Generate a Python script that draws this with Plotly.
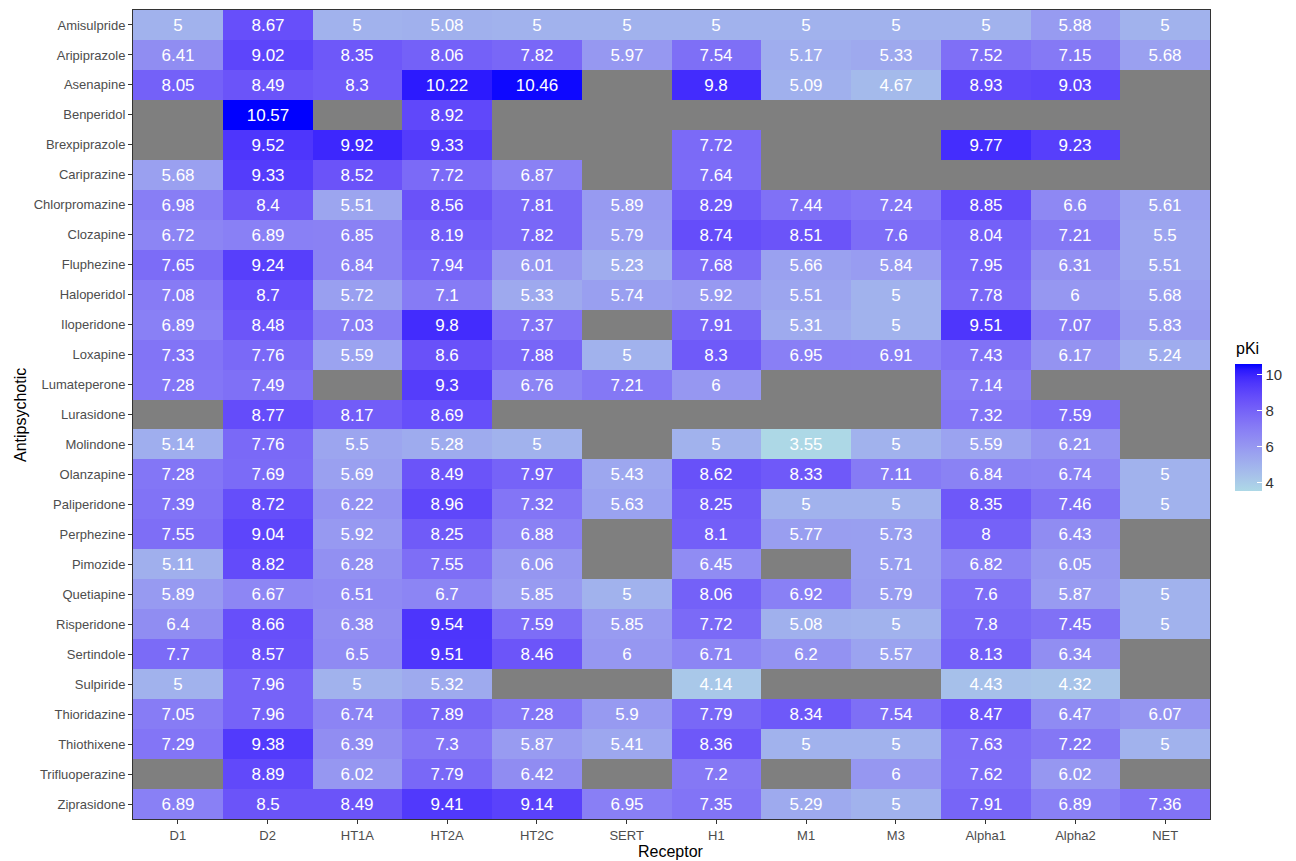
import plotly.graph_objects as go
import numpy as np

receptors = ["D1", "D2", "HT1A", "HT2A", "HT2C", "SERT", "H1", "M1", "M3", "Alpha1", "Alpha2", "NET"]
drugs = ["Amisulpride", "Aripiprazole", "Asenapine", "Benperidol", "Brexpiprazole", "Cariprazine",
         "Chlorpromazine", "Clozapine", "Fluphezine", "Haloperidol", "Iloperidone", "Loxapine",
         "Lumateperone", "Lurasidone", "Molindone", "Olanzapine", "Paliperidone", "Perphezine",
         "Pimozide", "Quetiapine", "Risperidone", "Sertindole", "Sulpiride", "Thioridazine",
         "Thiothixene", "Trifluoperazine", "Ziprasidone"]
N = None
pki = [
    [5, 8.67, 5, 5.08, 5, 5, 5, 5, 5, 5, 5.88, 5],
    [6.41, 9.02, 8.35, 8.06, 7.82, 5.97, 7.54, 5.17, 5.33, 7.52, 7.15, 5.68],
    [8.05, 8.49, 8.3, 10.22, 10.46, N, 9.8, 5.09, 4.67, 8.93, 9.03, N],
    [N, 10.57, N, 8.92, N, N, N, N, N, N, N, N],
    [N, 9.52, 9.92, 9.33, N, N, 7.72, N, N, 9.77, 9.23, N],
    [5.68, 9.33, 8.52, 7.72, 6.87, N, 7.64, N, N, N, N, N],
    [6.98, 8.4, 5.51, 8.56, 7.81, 5.89, 8.29, 7.44, 7.24, 8.85, 6.6, 5.61],
    [6.72, 6.89, 6.85, 8.19, 7.82, 5.79, 8.74, 8.51, 7.6, 8.04, 7.21, 5.5],
    [7.65, 9.24, 6.84, 7.94, 6.01, 5.23, 7.68, 5.66, 5.84, 7.95, 6.31, 5.51],
    [7.08, 8.7, 5.72, 7.1, 5.33, 5.74, 5.92, 5.51, 5, 7.78, 6, 5.68],
    [6.89, 8.48, 7.03, 9.8, 7.37, N, 7.91, 5.31, 5, 9.51, 7.07, 5.83],
    [7.33, 7.76, 5.59, 8.6, 7.88, 5, 8.3, 6.95, 6.91, 7.43, 6.17, 5.24],
    [7.28, 7.49, N, 9.3, 6.76, 7.21, 6, N, N, 7.14, N, N],
    [N, 8.77, 8.17, 8.69, N, N, N, N, N, 7.32, 7.59, N],
    [5.14, 7.76, 5.5, 5.28, 5, N, 5, 3.55, 5, 5.59, 6.21, N],
    [7.28, 7.69, 5.69, 8.49, 7.97, 5.43, 8.62, 8.33, 7.11, 6.84, 6.74, 5],
    [7.39, 8.72, 6.22, 8.96, 7.32, 5.63, 8.25, 5, 5, 8.35, 7.46, 5],
    [7.55, 9.04, 5.92, 8.25, 6.88, N, 8.1, 5.77, 5.73, 8, 6.43, N],
    [5.11, 8.82, 6.28, 7.55, 6.06, N, 6.45, N, 5.71, 6.82, 6.05, N],
    [5.89, 6.67, 6.51, 6.7, 5.85, 5, 8.06, 6.92, 5.79, 7.6, 5.87, 5],
    [6.4, 8.66, 6.38, 9.54, 7.59, 5.85, 7.72, 5.08, 5, 7.8, 7.45, 5],
    [7.7, 8.57, 6.5, 9.51, 8.46, 6, 6.71, 6.2, 5.57, 8.13, 6.34, N],
    [5, 7.96, 5, 5.32, N, N, 4.14, N, N, 4.43, 4.32, N],
    [7.05, 7.96, 6.74, 7.89, 7.28, 5.9, 7.79, 8.34, 7.54, 8.47, 6.47, 6.07],
    [7.29, 9.38, 6.39, 7.3, 5.87, 5.41, 8.36, 5, 5, 7.63, 7.22, 5],
    [N, 8.89, 6.02, 7.79, 6.42, N, 7.2, N, 6, 7.62, 6.02, N],
    [6.89, 8.5, 8.49, 9.41, 9.14, 6.95, 7.35, 5.29, 5, 7.91, 6.89, 7.36],
]
colorbar_ticks = [4, 6, 8, 10]

# Lab interpolation between lightblue and blue (ggplot2 scale_fill_gradient style)
def srgb_to_lab(rgb):
    c = np.array(rgb) / 255.0
    c = np.where(c <= 0.04045, c / 12.92, ((c + 0.055) / 1.055) ** 2.4)
    M = np.array([[0.4124, 0.3576, 0.1805], [0.2126, 0.7152, 0.0722], [0.0193, 0.1192, 0.9505]])
    xyz = M @ c
    xyz = xyz / np.array([0.95047, 1.0, 1.08883])
    f = np.where(xyz > 0.008856, np.cbrt(xyz), 7.787 * xyz + 16 / 116)
    return np.array([116 * f[1] - 16, 500 * (f[0] - f[1]), 200 * (f[1] - f[2])])

def lab_to_srgb(lab):
    L_, a, b = lab
    fy = (L_ + 16) / 116
    fx = fy + a / 500
    fz = fy - b / 200
    f = np.array([fx, fy, fz])
    xyz = np.where(f ** 3 > 0.008856, f ** 3, (f - 16 / 116) / 7.787)
    xyz = xyz * np.array([0.95047, 1.0, 1.08883])
    Minv = np.array([[3.2406, -1.5372, -0.4986], [-0.9689, 1.8758, 0.0415], [0.0557, -0.2040, 1.0570]])
    c = Minv @ xyz
    c = np.where(c <= 0.0031308, 12.92 * c, 1.055 * np.clip(c, 0, None) ** (1 / 2.4) - 0.055)
    c = np.clip(c, 0, 1) * 255
    return "rgb(%d,%d,%d)" % tuple(np.round(c).astype(int))

lo = srgb_to_lab((173, 216, 230))
hi = srgb_to_lab((0, 0, 255))
colorscale = [[t, lab_to_srgb(lo + (hi - lo) * t)] for t in np.linspace(0, 1, 21)]

text = [["" if v is None else f"{v:g}" for v in row] for row in pki]
z = [[np.nan if v is None else v for v in row] for row in pki]

# page body has an 8px margin; work in screen coordinates and shift
O = 8
W, H = 1296 - O, 861 - O
L, R, T, B = 133 - O, 1210 - O, 10 - O, 819 - O
pw, ph = R - L, B - T

def px(x):
    return (x - O - L) / pw

def py(y):
    return (B - (y - O)) / ph

fig = go.Figure(go.Heatmap(
    z=z, x=receptors, y=drugs, text=text, texttemplate="%{text}",
    textfont=dict(color="white", size=17, family="Liberation Sans, Arial"),
    colorscale=colorscale, zmin=3.55, zmax=10.57, xgap=0, ygap=0,
    hoverongaps=False,
    colorbar=dict(
        tickvals=colorbar_ticks, ticks="inside", ticklen=5, tickcolor="white",
        tickfont=dict(size=15, color="#333333"),
        thickness=27, lenmode="pixels", len=127,
        x=px(1235), xanchor="left", y=py(364), yanchor="top",
        outlinewidth=0, xpad=0, ypad=0,
    ),
))

fig.update_layout(
    width=W, height=H,
    margin=dict(l=L, r=W - R, t=T, b=H - B),
    paper_bgcolor="white", plot_bgcolor="#7f7f7f",
    font=dict(family="Liberation Sans, Arial", color="#4d4d4d"),
    xaxis=dict(tickfont=dict(size=13, color="#4d4d4d"), ticks="outside", ticklen=4,
               tickcolor="#333333", showgrid=False, zeroline=False, automargin=False,
               showline=True, linecolor="#333333", mirror=True, linewidth=1),
    yaxis=dict(tickfont=dict(size=13, color="#4d4d4d"), ticks="outside", ticklen=4,
               tickcolor="#333333", showgrid=False, zeroline=False, autorange="reversed",
               automargin=False,
               showline=True, linecolor="#333333", mirror=True, linewidth=1),
    annotations=[
        dict(text="Receptor", x=px(671), y=py(851), xref="paper", yref="paper",
             showarrow=False, font=dict(size=16, color="black"), xanchor="center", yanchor="middle"),
        dict(text="Antipsychotic", x=px(20), y=py(415), xref="paper", yref="paper", textangle=-90,
             showarrow=False, font=dict(size=16, color="black"), xanchor="center", yanchor="middle"),
        dict(text="pKi", x=px(1234), y=py(348), xref="paper", yref="paper",
             showarrow=False, font=dict(size=16, color="black"), xanchor="left", yanchor="middle"),
    ],
)

fig.write_html("out.html")
